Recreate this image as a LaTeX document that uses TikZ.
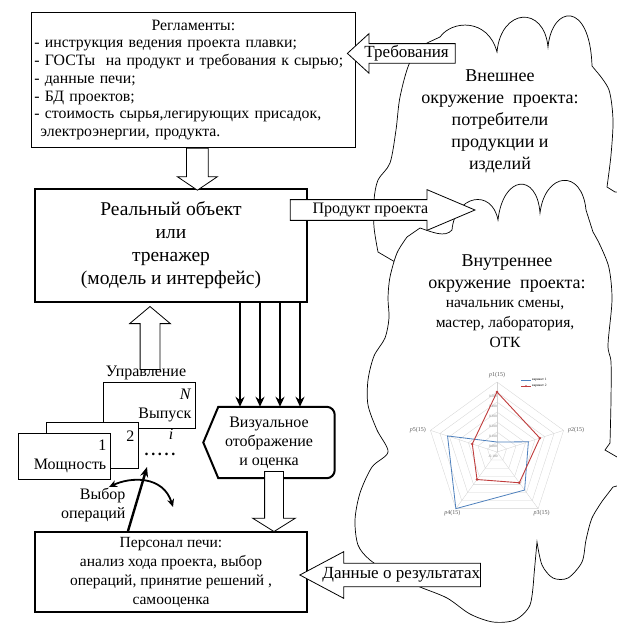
\documentclass[tikz,border=0pt]{standalone}
\usepackage{fontspec}
\setmainfont{Liberation Serif}
\usetikzlibrary{arrows.meta, shapes.arrows, calc}

\definecolor{seriesone}{RGB}{79,129,189}
\definecolor{seriestwo}{RGB}{192,60,60}

\newcommand{\regsize}{\fontsize{15.8}{17.7}\selectfont}
\newcommand{\perssize}{\fontsize{15.5}{19}\selectfont}
\newcommand{\mainsize}{\fontsize{19.5}{23}\selectfont}
\newcommand{\envsize}{\fontsize{18}{22}\selectfont}
\newcommand{\listsize}{\fontsize{15.5}{20}\selectfont}
\newcommand{\cardsize}{\fontsize{16}{19}\selectfont}
\newcommand{\bigarrsize}{\fontsize{17}{20}\selectfont}
\newcommand{\axsize}{\fontsize{6}{7}\selectfont}
\newcommand{\ticksize}{\fontsize{3.5}{4}\selectfont}

\tikzset{
  regbox/.style={draw, line width=0.8pt, fill=white, inner sep=3pt},
  mainbox/.style={draw, line width=2pt, fill=white, align=center},
  card/.style={draw, line width=0.6pt, fill=white, anchor=north west,
    minimum width=92, minimum height=46, text width=84, align=right,
    inner sep=4pt, font=\cardsize},
  blockarrow/.style={single arrow, draw, line width=0.8pt, fill=white},
  thickarrow/.style={line width=2.6pt, -{Stealth[length=10pt, width=9pt]}},
  cloudline/.style={draw, line width=0.7pt, fill=white},
  gridline/.style={gray!35, line width=0.3pt}
}

\begin{document}
\begin{tikzpicture}[x=1pt, y=-1pt]
  \useasboundingbox (0,0) rectangle (617,630);

  % внешнее окружение
  \path[cloudline] (440,37) .. controls (452,20) and (488,18) .. (497,52)
    .. controls (501,8) and (544,5) .. (548,47)
    .. controls (552,5) and (590,0) .. (592,66)
    -- plot[smooth] coordinates {(597,72) (609,90) (613,120) (611,155) (607,187)}
    -- (615,192) -- (660,195) -- (660,470) -- (500,470) -- (395,262)
    -- plot[smooth] coordinates {(378,252) (374,227) (374,200) (378,180) (390,163)
      (396,130) (400,97) (410,62) (427,43)} -- cycle;
  % внутреннее окружение
  \path[cloudline] (420,228) .. controls (432,232) and (445,238) .. (452,230)
    .. controls (455,195) and (492,188) .. (498,220)
    .. controls (503,175) and (537,172) .. (540,213)
    .. controls (545,172) and (582,168) .. (586,210)
    -- plot[smooth] coordinates {(593,232) (600,245) (609,268) (612,300)
      (608,345) (611,362) (611,400) (610,443)}
    -- (605,450) -- (617,457) -- (640,460) -- (640,480) -- (613,487)
    -- plot[smooth] coordinates {(603,500) (592,518) (586,540) (582,562)
      (568,578) (553,578) (542,565) (537,542)}
    -- plot[smooth] coordinates {(534,575) (530,605) (515,620) (493,622)
      (470,614) (447,598) (420,587) (395,576) (370,560) (358,545) (355,520)
      (360,493) (372,467) (388,452) (377,430) (368,405) (368,380) (374,356)
      (385,338) (389,318) (388,298) (390,277) (397,253) (407,237)} -- cycle;

  \node[font=\envsize, align=center] (extenv) at (500,121)
    {Внешнее\\окружение\ \ проекта:\\потребители\\продукции и\\изделий};
  \node[font=\envsize, align=center] (intenv) at (507,274)
    {Внутреннее\\окружение\ \ проекта:};
  \node[font=\listsize, align=center] (staff) at (505,324)
    {начальник смены,\\мастер, лаборатория,\\ОТК};

  % диаграмма
  \begin{scope}[shift={(497,452)}, yscale=-1]
    \foreach \r in {10,20,...,70}
      \draw[gridline] (90:\r) -- (18:\r) -- (-54:\r) -- (-126:\r) -- (162:\r) -- cycle;
    \foreach \a in {90,18,-54,-126,162}
      \draw[gridline] (0,0) -- (\a:70);
    \foreach \r/\t in {60/0.500,50/0.400,40/0.300,30/0.200,20/0.100,10/0.000,0/-0.100}
      \node[font=\ticksize, text=gray] at (-4,\r-4) {\t};
    \node[font=\axsize, text=gray!70!black] (ax1) at (90:77) {\textit{p}1(15)};
    \node[font=\axsize, text=gray!70!black, anchor=west] (ax2) at (18:71) {\textit{p}2(15)};
    \node[font=\axsize, text=gray!70!black] (ax3) at (-54:76) {\textit{p}3(15)};
    \node[font=\axsize, text=gray!70!black] (ax4) at (-126:76) {\textit{p}4(15)};
    \node[font=\axsize, text=gray!70!black, anchor=east] (ax5) at (162:71) {\textit{p}5(15)};
    \draw[seriesone, line width=0.8pt] (90:10) -- (18:33) -- (-54:47) -- (-126:70)
      -- (162:52) -- cycle;
    \draw[seriestwo, line width=0.9pt] (90:60) -- (18:45) -- (-54:38) -- (-126:34)
      -- (162:26) -- cycle;
    \foreach \a/\r in {90/60,18/45,-54/38,-126/34,162/26}
      \fill[seriestwo] (\a:\r) circle (1.4);
    % легенда
    \draw[seriesone, line width=0.6pt] (24,72) -- (34,72);
    \draw[seriestwo, line width=0.6pt] (24,66) -- (34,66);
    \fill[seriestwo] (29,66) circle (1);
    \node[font=\ticksize, anchor=west, inner sep=1pt] (leg1) at (34,72) {вариант 1};
    \node[font=\ticksize, anchor=west, inner sep=1pt] (leg2) at (34,66) {вариант 2};
  \end{scope}

  % регламенты
  \node[regbox, anchor=north west, minimum width=324, minimum height=135,
    text width=318, align=left, font=\regsize] (reg) at (31,12)
    {\hbox to\hsize{\hfil Регламенты:\hfil}\\
     - инструкция ведения проекта плавки;\\
     - ГОСТы\ \ на продукт и требования к сырью;\\
     - данные печи;\\
     - БД проектов;\\
     - стоимость сырья,легирующих присадок,\\
     \hspace*{6pt}электроэнергии, продукта.};

  % объект
  \node[mainbox, minimum width=272, minimum height=113, font=\mainsize] (real) at (171,245.5)
    {Реальный объект\\или\\тренажер\\(модель и интерфейс)};

  % персонал
  \node[mainbox, minimum width=272, minimum height=80, font=\perssize] (pers) at (171,572)
    {Персонал печи:\\анализ хода проекта, выбор\\операций, принятие решений ,\\самооценка};

  % визуальное отображение
  \node[font=\cardsize, align=center, minimum width=131, minimum height=71, inner sep=0pt]
    (vis) at (269,442.5) {Визуальное\\отображение\\и оценка};
  \draw[line width=2pt] (vis.west) -- ($(vis.north west)+(15,0)$) [rounded corners=8pt]
    -- (vis.north east) -- (vis.south east) [sharp corners]
    -- ($(vis.south west)+(15,0)$) -- cycle;

  % карточки управления
  \node[card] (cardN) at (103,382) {\textit{N}\\Выпуск};
  \node[card] (card2) at (46,422) {2\hspace*{12pt}\\~};
  \node[card] (card1) at (18,433) {1\hspace*{3pt}\\Мощность\hspace*{5pt}};
  \node[font=\cardsize] (ctrl) at (146,373) {Управление};
  \node[font=\cardsize\itshape, inner sep=0pt] (idx) at (171,434) {i};
  \node[font=\cardsize\bfseries, inner sep=0pt] (dots) at (160,454) {.\,.\,.\,.\,.};
  \node[font=\cardsize, align=right, anchor=east] (choice) at (129,505) {Выбор\\операций};

  % блочные стрелки
  \node[blockarrow, shape border rotate=270, single arrow head extend=9pt,
    single arrow tip angle=112, inner sep=10.5pt, minimum height=42, anchor=tail]
    (regarr) at ($(reg.south)+(4,0)$) {};
  \node[blockarrow, shape border rotate=90, single arrow head extend=10.5pt,
    single arrow tip angle=100, inner sep=9.5pt, minimum height=63, anchor=tip]
    (ctrlarr) at ($(real.south)+(-21,3)$) {};
  \node[blockarrow, shape border rotate=270, single arrow head extend=12pt,
    single arrow tip angle=116, inner sep=9pt, minimum height=60, anchor=tip]
    (visarr) at ($(pers.north)+(103,1)$) {};
  \node[blockarrow, shape border rotate=180, single arrow head extend=10pt,
    single arrow tip angle=85, inner xsep=6pt, inner ysep=1.5pt, font=\bigarrsize, anchor=tip]
    (req) at ($(reg.east)+(-9,-26.5)$) {Требования};
  \node[blockarrow, single arrow head extend=10pt, single arrow tip angle=46,
    inner xsep=22pt, inner ysep=3pt, font=\cardsize, anchor=tip]
    (prod) at ($(real.east)+(168,-35.5)$) {Продукт проекта};
  \node[blockarrow, shape border rotate=180, single arrow head extend=11.5pt,
    single arrow tip angle=56, inner xsep=0pt, inner ysep=4pt, font=\bigarrsize, anchor=tip]
    (data) at ($(pers.east)+(-9,3)$) {Данные о результатах};

  % отображение состояния
  \foreach \xx in {240,260,280,300}
    \draw[thickarrow] (\xx,0 |- real.south) -- (\xx,0 |- vis.north);

  % выбор операций
  \coordinate (pick) at ($(pers.north)+(-43,0)$);
  \coordinate (pickend) at (147,467);
  \coordinate (swL) at (109,487);
  \coordinate (swR) at (173,507);
  \draw[line width=2.4pt, -{Stealth[length=10pt, width=8pt]}] (pick) -- (pickend);
  \draw[line width=1.8pt, {Stealth[length=8pt, width=7pt]}-{Stealth[length=8pt, width=7pt]}]
    (swL) .. controls (130,477) and (163,475) .. (swR);
\end{tikzpicture}
\end{document}
